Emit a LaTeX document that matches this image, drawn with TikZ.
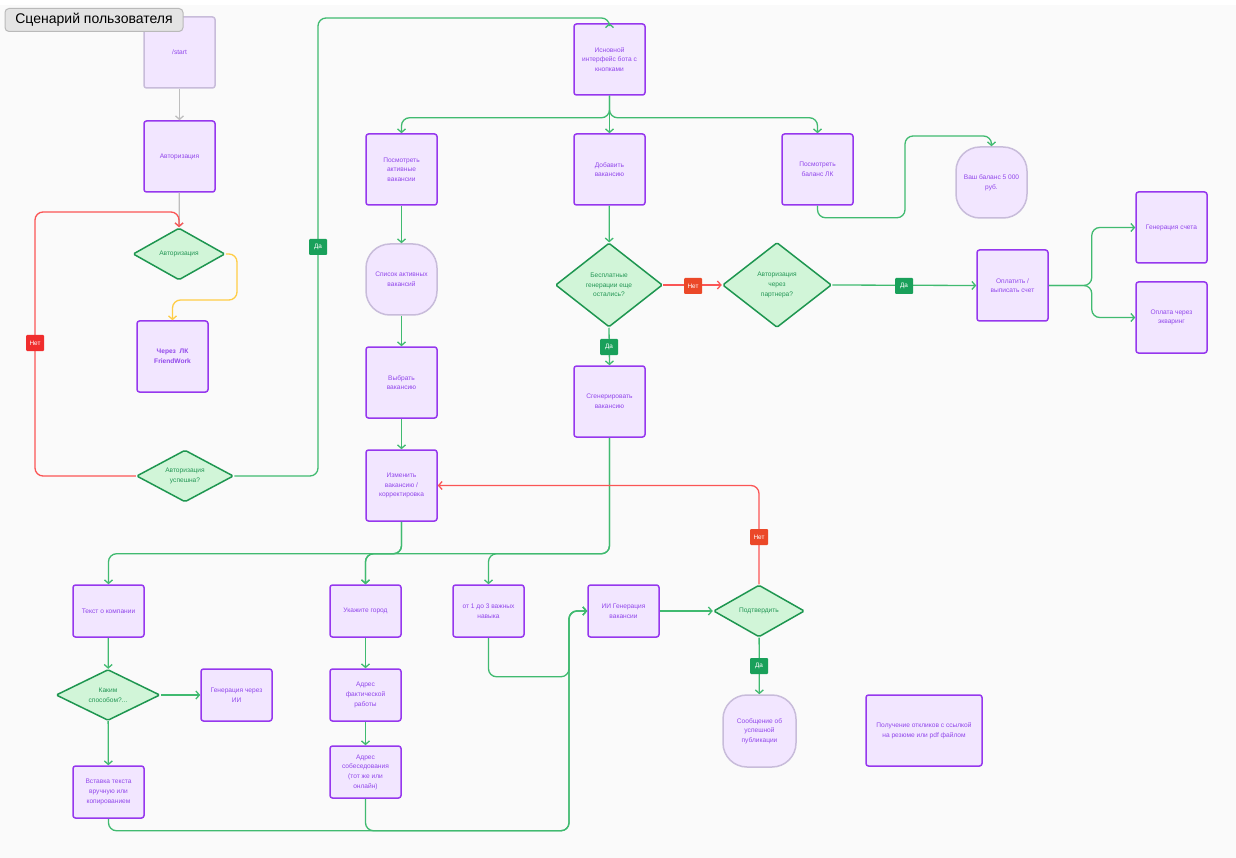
\documentclass[tikz,border=0pt]{standalone}
\usepackage{fontspec}
\setmainfont{Liberation Sans}
\usepackage{xcolor}
\definecolor{canvas}{RGB}{250,250,250}
\definecolor{boxfill}{RGB}{242,230,255}
\definecolor{boxline}{RGB}{150,55,238}
\definecolor{boxtext}{RGB}{145,70,235}
\definecolor{softline}{RGB}{200,188,218}
\definecolor{choicefill}{RGB}{209,245,216}
\definecolor{choiceline}{RGB}{30,150,80}
\definecolor{choicetext}{RGB}{35,150,85}
\definecolor{goline}{RGB}{64,186,112}
\definecolor{noline}{RGB}{250,85,85}
\definecolor{waitline}{RGB}{255,205,70}
\definecolor{greyline}{RGB}{190,190,190}
\definecolor{yesfill}{RGB}{25,160,90}
\definecolor{nofill}{RGB}{240,45,45}
\definecolor{nofilltwo}{RGB}{235,72,40}
\definecolor{titlefill}{RGB}{228,228,228}
\definecolor{titleline}{RGB}{185,185,185}
\usepackage{tikz}
\usetikzlibrary{positioning}
\usetikzlibrary{arrows.meta,shapes.geometric}

\newcommand\cardfont{\fontsize{6.6}{9.7}\selectfont}
\newcommand\tagsfont{\fontsize{6.4}{7}\selectfont}

\tikzset{
  card/.style={draw=boxline,fill=boxfill,line width=1.5pt,rounded corners=2.5pt,
    minimum width=71pt,minimum height=71pt,align=center,text=boxtext,font=\cardfont,inner sep=2pt},
  lowcard/.style={card,minimum height=52pt},
  blob/.style={card,draw=softline,rounded corners=24pt},
  choice/.style={diamond,aspect=2,draw=choiceline,fill=choicefill,line width=1.5pt,
    rounded corners=1.5pt,align=center,text=choicetext,font=\cardfont,inner sep=1pt},
  go/.style={draw=goline,line width=1.3pt,rounded corners=8pt,->},
  nogo/.style={go,draw=noline},
  tagyes/.style={fill=yesfill,text=white,font=\tagsfont,rounded corners=1pt,
    minimum width=18pt,minimum height=16pt,inner sep=1pt},
  tagno/.style={tagyes,fill=nofill},
  tagnotwo/.style={tagyes,fill=nofilltwo},
}

\begin{document}
\begin{tikzpicture}[x=1pt,y=-1pt,>={Straight Barb[length=3.5pt,width=8pt]}]
\useasboundingbox (0,0) rectangle (1236,858);
\fill[white] (0,0) rectangle (1236,858);
\fill[canvas] (0,5) rectangle (1236,858);

%login column
\node (start) at (179.5,52.5) [card,draw=softline] {/start};
\node (auth) at (179.5,156.5) [card] {Авторизация};
\node (authq) at (179,254) [choice,minimum width=92pt,minimum height=52pt] {Авторизация};
\node (lk) at (172.5,356.5) [card] {\bfseries Через\ \ ЛК\\\bfseries FriendWork};
\node (authok) at (185,476) [choice,minimum width=97pt,minimum height=52pt] {Авторизация\\успешна?};

%main menu
\node (menu) at (609.5,59.5) [card] {Исновной\\интерфейс бота с\\кнопками};
\node (viewjobs) at (401.5,169.5) [card] {Посмотреть\\активные\\вакансии};
\node (addjob) at (609.5,169.5) [card] {Добавить\\вакансию};
\node (balance) at (817.5,169.5) [card] {Посмотреть\\баланс ЛК};
\node (balancemsg) at (991.5,182.5) [blob] {Ваш баланс 5 000\\руб.};

%active jobs
\node (joblist) at (401.5,279.5) [blob] {Список активных\\вакансий};
\node (pickjob) at (401.5,382.5) [card] {Выбрать\\вакансию};
\node (editjob) at (401.5,485.5) [card] {Изменить\\вакансию /\\корректировка};

%new job
\node (freeq) at (609,285) [choice,minimum width=107pt,minimum height=84pt] {Бесплатные\\генерации еще\\остались?};
\node (partnerq) at (777,285) [choice,minimum width=109pt,minimum height=85pt] {Авторизация\\через\\партнера?};
\node (pay) at (1012.5,285.5) [card] {Оплатить /\\выписать счет};
\node (invoice) at (1171.5,227.5) [card] {Генерация счета};
\node (acquiring) at (1171.5,317.5) [card] {Оплата через\\экваринг};
\node (genjob) at (609.5,401.5) [card] {Сгенерировать\\вакансию};

%job details
\node (company) at (108.5,611) [lowcard] {Текст о компании};
\node (howq) at (108,695) [choice,minimum width=104pt,minimum height=51pt] {Каким\\способом?...};
\node (aitext) at (236.5,695) [lowcard] {Генерация через\\ИИ};
\node (manual) at (108.5,792) [lowcard] {Вставка текста\\вручную или\\копированием};
\node (city) at (365.5,611) [lowcard] {Укажите город};
\node (workaddr) at (365.5,695) [lowcard] {Адрес\\фактической\\работы};
\node (meetaddr) at (365.5,772) [lowcard] {Адрес\\собеседования\\(тот же или\\онлайн)};
\node (skills) at (488.5,611) [lowcard] {от 1 до 3 важных\\навыка};
\node (aigen) at (623.5,611) [lowcard] {ИИ Генерация\\вакансии};
\node (confirmq) at (759,611) [choice,minimum width=91pt,minimum height=52pt] {Подтвердить};
\node (published) at (759.5,731) [blob,minimum width=73pt,minimum height=72pt] {Сообщение об\\успешной\\публикации};
\node (replies) at (924,730.5) [card,minimum width=116pt] {Получение откликов с ссылкой\\на резюме или pdf файлом};

%title
\node (title) at (94,20) [draw=titleline,fill=titlefill,line width=1pt,rounded corners=4pt,
  minimum width=178pt,minimum height=23pt,font=\fontsize{14}{16}\selectfont] {Сценарий пользователя};

%login links
\draw [->,draw=greyline,line width=1.3pt] (start) -- (auth);
\draw [->,draw=greyline,line width=1.3pt] (auth) -- (authq);
\draw [go,draw=waitline] (authq.east) -| (237,300) -| (lk.north);
\draw [nogo] (authok.west) -| (35,212) -| (authq.north);
\draw [go] (authok.east) -| (318,18) -| (menu.north);

%menu links
\draw [go] (menu.south) -- ++(0,22) -| (viewjobs.north);
\draw [go] (menu.south) -- (addjob.north);
\draw [go] (menu.south) -- ++(0,22) -| (balance.north);
\draw [go] (balance.south) -- ++(0,12) -| (905,136) -| (balancemsg.north);
\draw [go] (viewjobs) -- (joblist);
\draw [go] (joblist) -- (pickjob);
\draw [go] (pickjob) -- (editjob);
\draw [go] (addjob) -- (freeq);
\draw [nogo] (freeq.east) -- (partnerq.west);
\draw [go] (partnerq.east) -- (pay.west);
\draw [go] (pay.east) -- ++(43,0) |- (invoice.west);
\draw [go] (pay.east) -- ++(43,0) |- (acquiring.west);
\draw [go] (freeq.south) -- (genjob.north);

%details links
\draw [go] (editjob.south) -- ++(0,32) -| (company.north);
\draw [go] (editjob.south) -- ++(0,32) -| (city.north);
\draw [go] (genjob.south) -- ++(0,116) -| (city.north);
\draw [go] (genjob.south) -- ++(0,116) -| (skills.north);
\draw [go] (company) -- (howq);
\draw [go] (howq) -- (aitext);
\draw [go] (howq) -- (manual);
\draw [go] (city) -- (workaddr);
\draw [go] (workaddr) -- (meetaddr);
\draw [go] (manual.south) -- ++(0,12) -| (569,611) -- (aigen.west);
\draw [go] (meetaddr.south) -- ++(0,32) -| (569,611) -- (aigen.west);
\draw [go] (skills.south) -- ++(0,39) -| (569,611) -- (aigen.west);
\draw [go] (aigen) -- (confirmq);
\draw [nogo] (confirmq.north) |- (editjob.east);
\draw [go] (confirmq) -- (published);

%tags
\node (noauth) at (35,343) [tagno] {Нет};
\node (yesauth) at (318,247) [tagyes] {Да};
\node (nofree) at (693,286) [tagnotwo] {Нет};
\node (yesfree) at (609,347) [tagyes] {Да};
\node (yespartner) at (904,286) [tagyes] {Да};
\node (noconfirm) at (759,537) [tagnotwo] {Нет};
\node (yesconfirm) at (759,666) [tagyes] {Да};
\end{tikzpicture}
\end{document}
